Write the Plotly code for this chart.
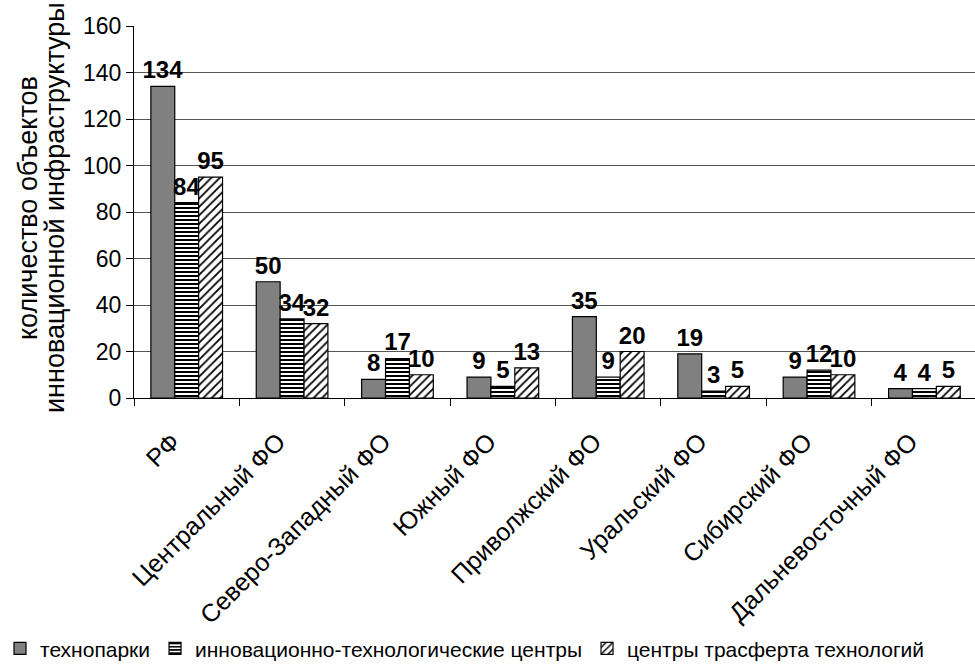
import plotly.graph_objects as go

# Federal districts and counts of innovation-infrastructure objects
districts = ["РФ", "Центральный ФО", "Северо-Западный ФО", "Южный ФО",
             "Приволжский ФО", "Уральский ФО", "Сибирский ФО", "Дальневосточный ФО"]
technoparks = [134, 50, 8, 9, 35, 19, 9, 4]
itc_centers = [84, 34, 17, 5, 9, 3, 12, 4]
transfer_centers = [95, 32, 10, 13, 20, 5, 10, 5]

series_names = ["технопарки", "инновационно-технологические центры",
                "центры трасферта технологий"]
y_ticks = [0, 20, 40, 60, 80, 100, 120, 140, 160]
y_title_lines = ["количество объектов", "инновационной инфраструктуры"]

FONT = "Liberation Sans, Arial, sans-serif"
label_font = dict(family=FONT, size=24, color="black")
outline = dict(color="black", width=1.2)

fig = go.Figure()

fig.add_trace(go.Bar(
    x=districts, y=technoparks, name=series_names[0],
    marker=dict(color="#808080", line=outline),
))
fig.add_trace(go.Bar(
    x=districts, y=itc_centers, name=series_names[1],
    marker=dict(color="white", line=outline,
                pattern=dict(shape="-", fgcolor="black", bgcolor="white",
                             size=4, solidity=0.5, fillmode="replace")),
))
fig.add_trace(go.Bar(
    x=districts, y=transfer_centers, name=series_names[2],
    marker=dict(color="white", line=outline,
                pattern=dict(shape="/", fgcolor="black", bgcolor="white",
                             size=6, solidity=0.3, fillmode="replace")),
))

# bold value labels above every bar, never shrunk to the bar width
fig.update_traces(
    texttemplate="<b>%{y}</b>", textposition="outside", textfont=label_font,
    constraintext="none", cliponaxis=False,
)

fig.update_layout(
    width=975, height=670,
    margin=dict(l=133, r=0, t=26, b=272),
    paper_bgcolor="white", plot_bgcolor="white",
    barmode="group", bargap=0.32, bargroupgap=0,
    font=dict(family=FONT, color="black"),
    showlegend=True,
    legend=dict(orientation="h", xref="paper", yref="paper",
                x=-0.16, y=-0.729, xanchor="left", yanchor="bottom",
                font=dict(family=FONT, size=21, color="black"),
                itemwidth=30, tracegroupgap=0,
                bgcolor="rgba(0,0,0,0)"),
)

# two-line rotated axis title
for text, xshift in zip(y_title_lines, [-106, -79]):
    fig.add_annotation(
        text=text, xref="paper", yref="paper", x=0, y=0.5,
        xshift=xshift, yshift=4, textangle=-90, showarrow=False,
        xanchor="center", yanchor="middle",
        font=dict(family=FONT, size=27, color="black"),
    )

fig.update_xaxes(
    type="category", range=[-0.5, 7.48], automargin=False,
    tickangle=-45, tickfont=dict(family=FONT, size=25, color="black"),
    ticklabelstandoff=18, ticklabelshift=-14,
    showline=True, linecolor="black", linewidth=1.2,
    ticks="outside", tickson="boundaries", ticklen=7, tickcolor="black",
    showgrid=False,
)
fig.update_yaxes(
    range=[0, 160], tickvals=y_ticks, ticktext=[str(v) for v in y_ticks],
    tickfont=dict(family=FONT, size=23, color="black"), automargin=False,
    showline=True, linecolor="black", linewidth=1.2,
    ticks="outside", ticklen=7, tickcolor="black",
    showgrid=True, gridcolor="#555555", gridwidth=1,
    zeroline=False,
)

fig.write_html("out.html")
